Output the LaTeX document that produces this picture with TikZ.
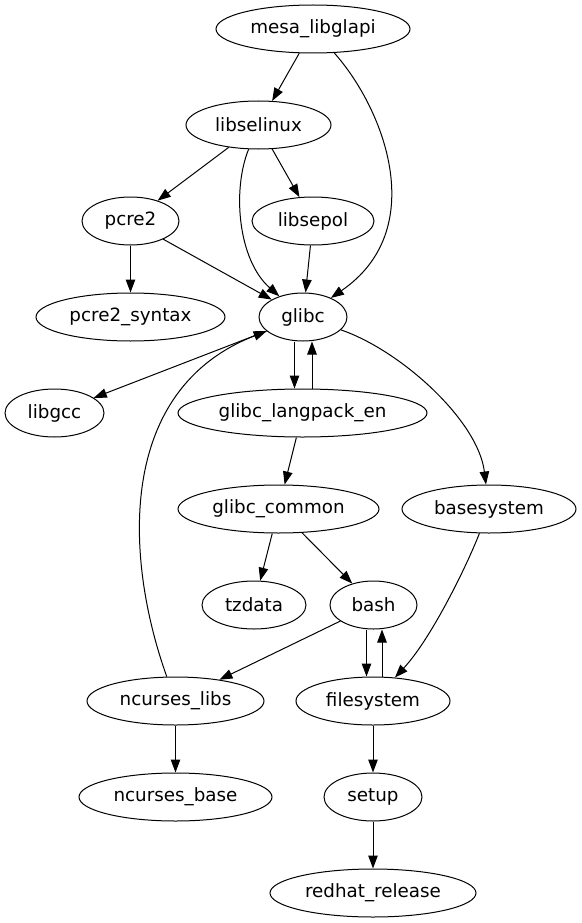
\documentclass[tikz,border=0pt]{standalone}
\usepackage{fontspec}
\setmainfont{DejaVu Sans}
\usetikzlibrary{shapes.geometric,arrows.meta}
\begin{document}
\begin{tikzpicture}[x=1pt,y=-1pt,
  pkg/.style={ellipse, draw, line width=1pt, inner sep=0pt, minimum height=48pt,
    font=\fontsize{18.3pt}{22pt}\selectfont},
  dep/.style={-{Triangle[length=13pt,width=9.5pt]}, line width=1pt}]
\useasboundingbox (0,0) rectangle (581,923);
% nodes
\node[pkg, minimum width=194pt] (mesa) at (313,29) {mesa\_libglapi};
\node[pkg, minimum width=145pt] (selinux) at (258.5,125) {libselinux};
\node[pkg, minimum width=97pt] (pcre) at (130.5,221) {pcre2};
\node[pkg, minimum width=122pt] (sepol) at (313,221) {libsepol};
\node[pkg, minimum width=189pt] (pcresyn) at (130.5,317) {pcre2\_syntax};
\node[pkg, minimum width=88pt] (glibc) at (303,317) {glibc};
\node[pkg, minimum width=99pt] (gcc) at (54.5,413) {libgcc};
\node[pkg, minimum width=249pt] (lang) at (302.5,413) {glibc\_langpack\_en};
\node[pkg, minimum width=201pt] (common) at (278.5,509) {glibc\_common};
\node[pkg, minimum width=174pt] (base) at (489,509) {basesystem};
\node[pkg, minimum width=104pt] (tz) at (254,605) {tzdata};
\node[pkg, minimum width=87pt] (bash) at (373.5,605) {bash};
\node[pkg, minimum width=177pt] (nclibs) at (175.5,701) {ncurses\_libs};
\node[pkg, minimum width=154pt] (fs) at (373,701) {filesystem};
\node[pkg, minimum width=193pt] (ncbase) at (175.5,797) {ncurses\_base};
\node[pkg, minimum width=98pt] (setup) at (373,797) {setup};
\node[pkg, minimum width=206pt] (redhat) at (373,893) {redhat\_release};
% edges
\draw[dep] (mesa) -- (selinux);
\draw[dep] (mesa) .. controls (385,110) and (430,230) .. (glibc);
\draw[dep] (selinux) -- (pcre);
\draw[dep] (selinux) .. controls (232,190) and (238,260) .. (glibc);
\draw[dep] (selinux) -- (sepol);
\draw[dep] (pcre) -- (pcresyn);
\draw[dep] (pcre) -- (glibc);
\draw[dep] (sepol) -- (glibc);
\draw[dep] (glibc) -- (gcc);
\draw[dep] ([xshift=-8.5pt]glibc.south) -- ([xshift=-8pt]lang.north);
\draw[dep] ([xshift=9.5pt]lang.north) -- ([xshift=9pt]glibc.south);
\draw[dep] (glibc) .. controls (400,350) and (478,420) .. (base);
\draw[dep] (lang) -- (common);
\draw[dep] (common) -- (tz);
\draw[dep] (common) -- (bash);
\draw[dep] (bash) -- (nclibs);
\draw[dep] ([xshift=-7pt]bash.south) -- ([xshift=-6.5pt]fs.north);
\draw[dep] ([xshift=9pt]fs.north) -- ([xshift=8.5pt]bash.south);
\draw[dep] (base) .. controls (465,570) and (430,640) .. (fs);
\draw[dep] (nclibs) .. controls (125,560) and (115,390) .. (glibc);
\draw[dep] (nclibs) -- (ncbase);
\draw[dep] (fs) -- (setup);
\draw[dep] (setup) -- (redhat);
\end{tikzpicture}
\end{document}
